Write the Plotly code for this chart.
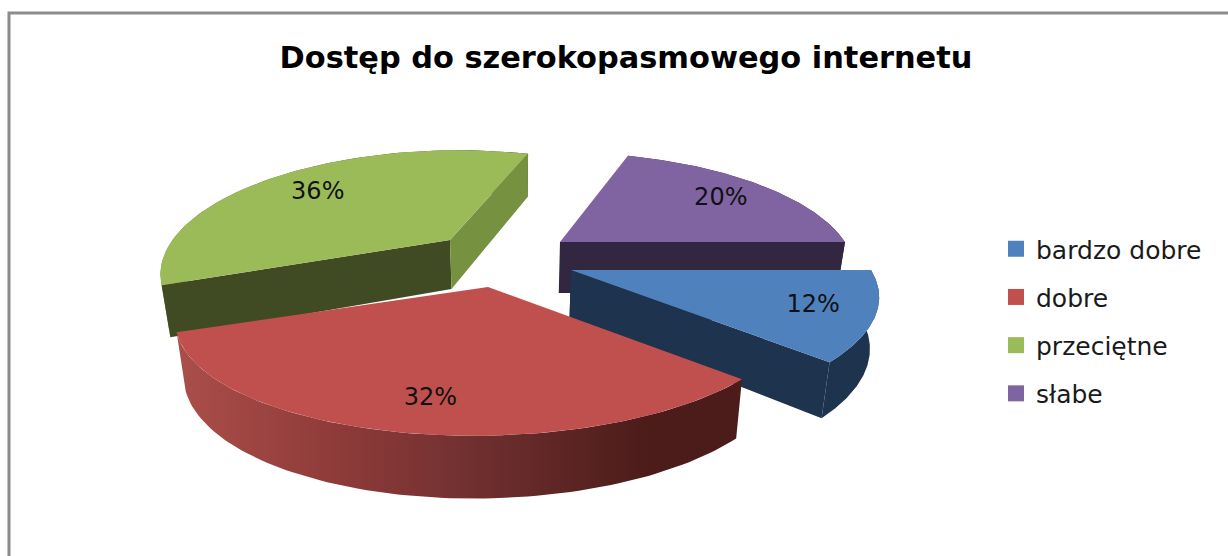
import numpy as np
import plotly.graph_objects as go

# ---------- data ----------
title_text = "Dostęp do szerokopasmowego internetu"
categories = ["bardzo dobre", "dobre", "przeciętne", "słabe"]
values = [12, 32, 36, 20]

# ---------- styles ----------
top_colors = ["#4F81BD", "#C0504D", "#9BBB59", "#8064A2"]
start_face = ["#1D334E", None, "#404B23", None]
end_face = ["#1D334E", None, "#769140", "#322640"]
wall_scale = [
    [[0, "#1D334E"], [1, "#1D334E"]],
    [[0, "#AB4E4A"], [0.3, "#8C3A38"], [0.5, "#733131"], [0.83, "#4C1C1A"], [1, "#4C1C1A"]],
    [[0, "#6F8A3C"], [1, "#404B23"]],
    [[0, "#322640"], [1, "#322640"]],
]
FONT = "DejaVu Sans, sans-serif"

# ---------- pie geometry (exploded, perspective) ----------
W, H = 1228, 556
START_ANGLE = 90.0
APEX = [(571, 270), (488, 287), (450, 240), (560, 242)]
SCALE_X = [1.0, 1.0, 0.925, 0.95]
SHEAR = [0.05, 0.10, 0.10, -0.04]
DEPTH = [50.0, 53.0, 49.0, 51.0]
LABEL_R = [0.81, 0.81, 0.72, 0.76]
LABEL_DTH = [0.0, -2.0, -3.0, 2.0]
PERSP = 0.247
RX, RY = 300.0, 112.0
VANISH_X = 510.0
CONVERGE = 0.025


def project(i, theta, r=1.0, bottom=False):
    apex = APEX[i]
    th = np.radians(theta)
    X, Z = r * np.sin(th), -r * np.cos(th)
    s = 1.0 / (1.0 - PERSP * Z)
    dy = RY * Z * s
    x = apex[0] + SCALE_X[i] * RX * X * s - SHEAR[i] * dy
    y = apex[1] + dy
    if bottom:
        x = x - (x - VANISH_X) * CONVERGE
        y = y + DEPTH[i] * s**0.6
    return x, y


def polygon(fig, xs, ys, color=None, gradient=None):
    kw = dict(fillcolor=color) if gradient is None else dict(fillgradient=gradient)
    fig.add_trace(go.Scatter(x=list(xs), y=list(ys), mode="lines", fill="toself",
                             line=dict(width=0), hoverinfo="skip", showlegend=False, **kw))


fig = go.Figure()

angles = np.cumsum([0] + [v / sum(values) * 360 for v in values]) + START_ANGLE
spans = list(zip(angles[:-1], angles[1:]))

# painter's order: far slices first
for i in [3, 2, 0, 1]:
    a0, a1 = spans[i]
    apex = APEX[i]
    th = np.linspace(a0, a1, 90)
    tx, ty = zip(*[project(i, t) for t in th])
    bx, by = zip(*[project(i, t, bottom=True) for t in th])
    cb = project(i, 0, r=0, bottom=True)
    # outer wall
    xs = list(tx) + list(bx[::-1]) + [tx[0]]
    ys = list(ty) + list(by[::-1]) + [ty[0]]
    polygon(fig, xs, ys, gradient=dict(type="horizontal", colorscale=wall_scale[i],
                                       start=min(xs), stop=max(xs)))
    # visible cut faces
    if start_face[i]:
        polygon(fig, [apex[0], tx[0], bx[0], cb[0], apex[0]],
                [apex[1], ty[0], by[0], cb[1], apex[1]], start_face[i])
    if end_face[i]:
        polygon(fig, [apex[0], tx[-1], bx[-1], cb[0], apex[0]],
                [apex[1], ty[-1], by[-1], cb[1], apex[1]], end_face[i])
    # top face
    polygon(fig, [apex[0]] + list(tx) + [apex[0]], [apex[1]] + list(ty) + [apex[1]], top_colors[i])

# percentage labels
lx, ly, lt = [], [], []
for i, v in enumerate(values):
    mid = sum(spans[i]) / 2 + LABEL_DTH[i]
    x, y = project(i, mid, r=LABEL_R[i])
    lx.append(x); ly.append(y); lt.append(f"{v}%")
fig.add_trace(go.Scatter(x=lx, y=ly, text=lt, mode="text", textposition="middle center",
                         textfont=dict(family=FONT, size=24, color="#111111"),
                         hoverinfo="skip", showlegend=False))

# legend entries
for name, col in zip(categories, top_colors):
    fig.add_trace(go.Scatter(x=[None], y=[None], mode="markers", name=name, legendgroup=name,
                             marker=dict(symbol="square", size=17, color=col)))

fig.update_layout(
    width=W, height=H, autosize=False,
    margin=dict(l=0, r=0, t=0, b=0),
    paper_bgcolor="white", plot_bgcolor="white",
    xaxis=dict(range=[0, W], visible=False, fixedrange=True),
    yaxis=dict(range=[H, 0], visible=False, fixedrange=True),
    title=dict(text=f"<b>{title_text}</b>", x=626 / W, y=1 - 57 / H, xanchor="center", yanchor="middle",
               font=dict(family=FONT, size=30.4, color="#000000")),
    legend=dict(x=996 / W, y=1 - 226 / H, xanchor="left", yanchor="top", bgcolor="rgba(0,0,0,0)",
                tracegroupgap=12.7, itemwidth=30, traceorder="grouped",
                font=dict(family=FONT, size=25, color="#1a1a1a")),
    shapes=[dict(type="rect", xref="paper", yref="paper", x0=9 / W, x1=1.05, y0=-0.05, y1=1 - 13 / H,
                 line=dict(color="#8C8C8C", width=3), layer="below")],
)

fig.write_html("out.html", config={"displayModeBar": False},
               post_script="document.body.style.margin='0';document.body.style.overflow='hidden';")
